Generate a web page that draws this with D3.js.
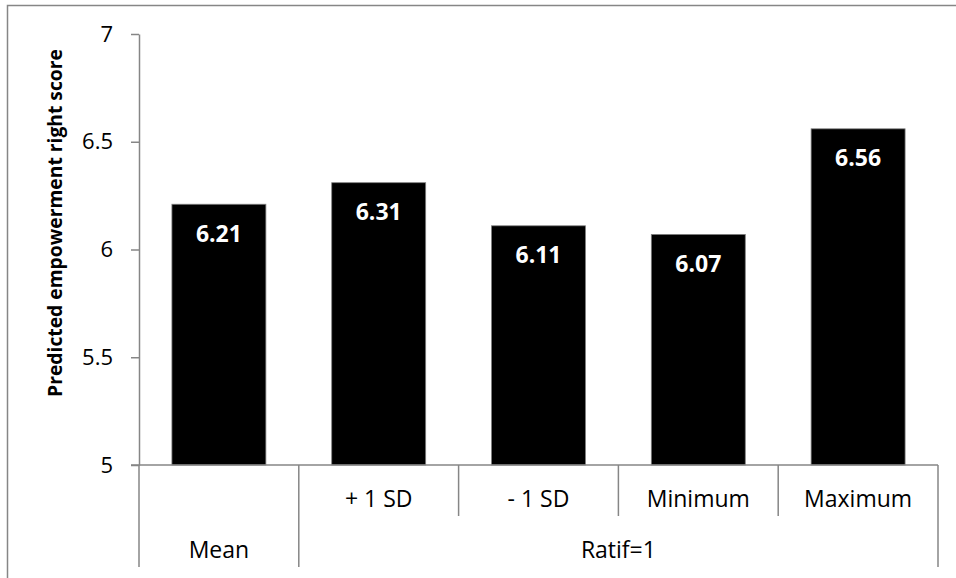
<!DOCTYPE html>
<html>
<head>
<meta charset="utf-8">
<script src="https://cdn.jsdelivr.net/npm/d3@7/dist/d3.min.js"></script>
<style>
  html, body { margin: 0; padding: 0; background: #fff; }
  svg { display: block; }
  text { font-family: "Open Sans", Lato, sans-serif; fill: #000; }
</style>
</head>
<body>
<svg id="chart" width="956" height="578"></svg>
<script>
// Sub-category labels (first row under the axis); the Mean bar has none
const subLabels = ["", "+ 1 SD", "- 1 SD", "Minimum", "Maximum"];
// Group labels (second row) and how many bars each group spans
const groupLabels = ["Mean", "Ratif=1"];
const groupSizes = [1, 4];
// Predicted scores
const scores = [6.21, 6.31, 6.11, 6.07, 6.56];
// Y axis ticks
const yTicks = [5, 5.5, 6, 6.5, 7];
const yTitle = "Predicted empowerment right score";

const svg = d3.select("#chart");
const margin = { left: 139, right: 938, top: 34, bottom: 465 };
const axisColor = "#868686";
const fontMain = "\"Open Sans\", Lato, sans-serif";

// Outer frame
svg.append("rect")
  .attr("x", 7.5).attr("y", 5.5)
  .attr("width", 1000).attr("height", 1000)
  .attr("fill", "none").attr("stroke", axisColor).attr("stroke-width", 1.5);

const keys = d3.range(scores.length);
const x = d3.scaleBand()
  .domain(keys)
  .range([margin.left, margin.right])
  .paddingInner(0.412)
  .paddingOuter(0.206);
const step = x.step();

const y = d3.scaleLinear().domain([5, 7]).range([margin.bottom, margin.top]);

// Bars
svg.append("g").selectAll("rect")
  .data(scores)
  .join("rect")
  .attr("x", (d, i) => x(i))
  .attr("width", x.bandwidth())
  .attr("y", d => y(d))
  .attr("height", d => y(5) - y(d))
  .attr("fill", "#000")
  .attr("stroke", "#7f7f7f")
  .attr("stroke-width", 0.8);

// Value labels inside bars
svg.append("g").selectAll("text")
  .data(scores)
  .join("text")
  .attr("x", (d, i) => x(i) + x.bandwidth() / 2)
  .attr("y", d => y(d) + 37.5)
  .attr("text-anchor", "middle")
  .style("font-size", "23px")
  .style("font-weight", "bold")
  .style("fill", "#fff")
  .text(d => d3.format(".2f")(d));

// Y axis
const yAxis = d3.axisLeft(y)
  .tickValues(yTicks)
  .tickFormat(d => String(d))
  .tickSize(8)
  .tickSizeOuter(0)
  .tickPadding(18);
const yg = svg.append("g")
  .attr("transform", `translate(${margin.left},0)`)
  .call(yAxis);
yg.select(".domain").attr("stroke", axisColor).attr("stroke-width", 1.5);
yg.selectAll(".tick line").attr("stroke", axisColor).attr("stroke-width", 1.5);
yg.selectAll(".tick text")
  .style("font-family", fontMain)
  .style("font-size", "22px")
  .attr("fill", "#000");

// Y axis title
svg.append("text")
  .attr("transform", "translate(62,223) rotate(-90)")
  .attr("text-anchor", "middle")
  .style("font-size", "19.3px")
  .style("font-weight", "bold")
  .text(yTitle);

// Category axis: baseline, dividers, labels
const catG = svg.append("g");
const row1Bottom = 516, row2Bottom = 567;
catG.append("line")
  .attr("x1", margin.left - 8).attr("x2", margin.right)
  .attr("y1", y(5)).attr("y2", y(5))
  .attr("stroke", axisColor).attr("stroke-width", 1.5);

// Group boundaries get full-height dividers
const groupStarts = [0];
groupSizes.forEach((n, i) => groupStarts.push(groupStarts[i] + n));
const boundary = i => x(Math.min(i, keys.length - 1)) - step * 0.206 + (i >= keys.length ? step : 0);

keys.concat([keys.length]).forEach(i => {
  const isGroupEdge = groupStarts.includes(i);
  catG.append("line")
    .attr("x1", boundary(i)).attr("x2", boundary(i))
    .attr("y1", y(5)).attr("y2", isGroupEdge ? row2Bottom : row1Bottom)
    .attr("stroke", axisColor).attr("stroke-width", 1.5);
});

catG.selectAll("text.sub")
  .data(subLabels)
  .join("text")
  .attr("class", "sub")
  .attr("x", (d, i) => x(i) + x.bandwidth() / 2)
  .attr("y", 507)
  .attr("text-anchor", "middle")
  .style("font-size", "23px")
  .text(d => d);

catG.selectAll("text.group")
  .data(groupLabels)
  .join("text")
  .attr("class", "group")
  .attr("x", (d, i) => (boundary(groupStarts[i]) + boundary(groupStarts[i + 1])) / 2)
  .attr("y", 557.5)
  .attr("text-anchor", "middle")
  .style("font-size", "23px")
  .text(d => d);
</script>
</body>
</html>
